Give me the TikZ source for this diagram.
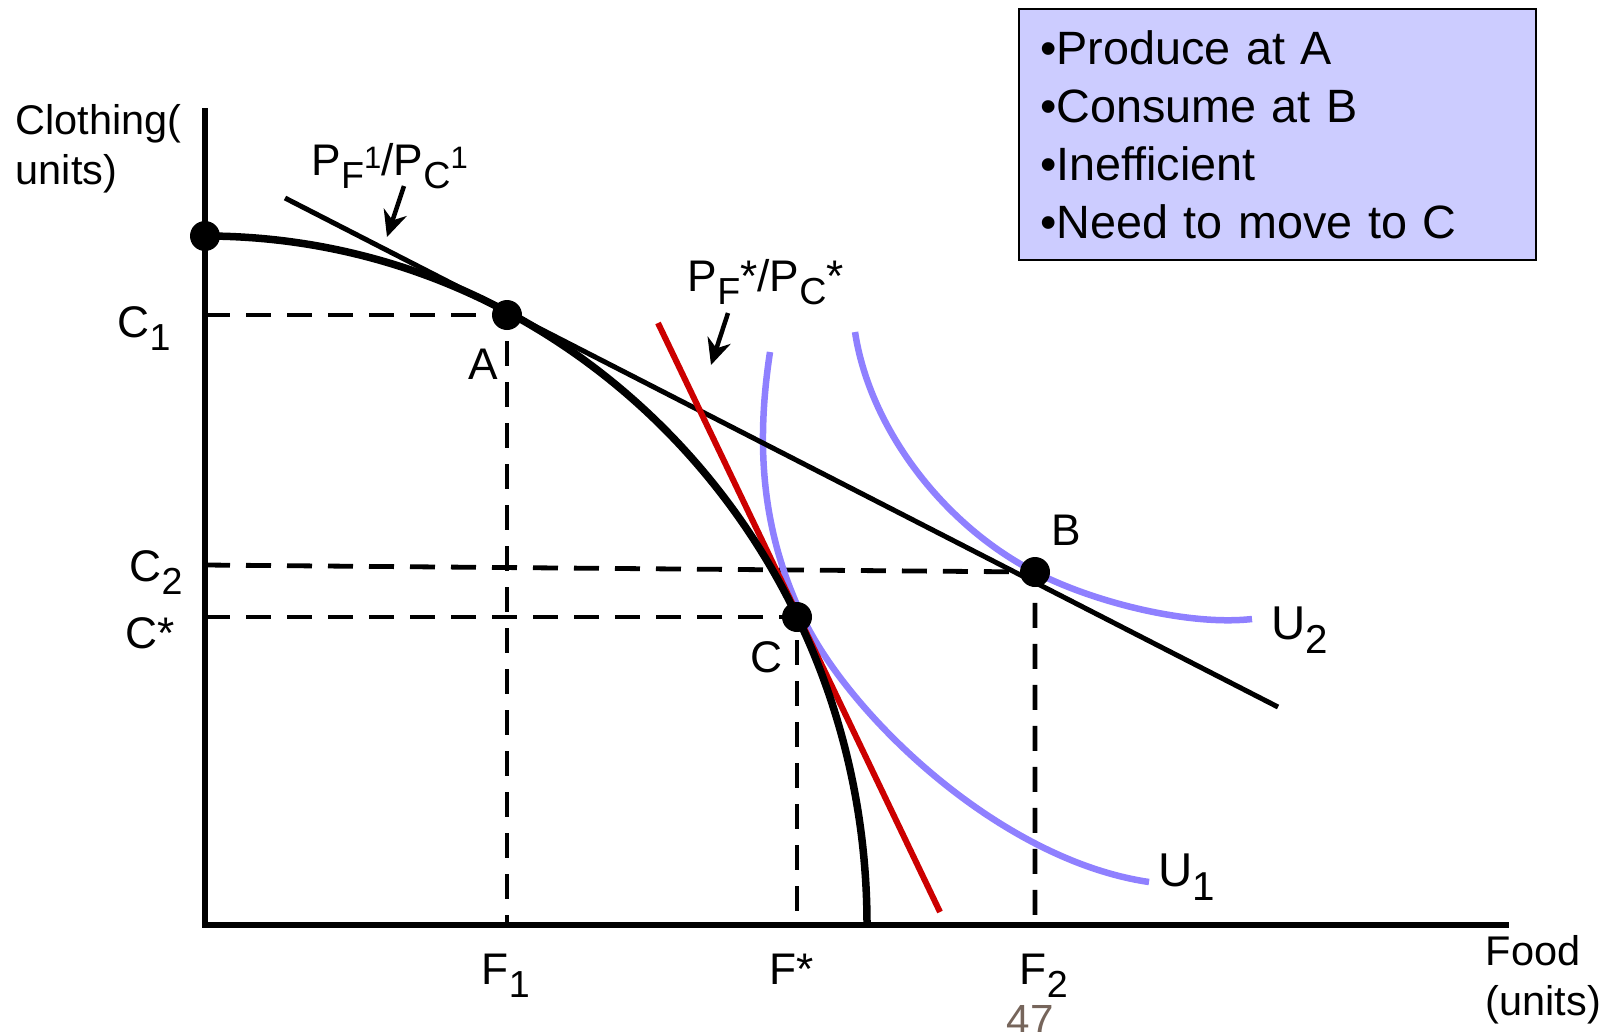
\documentclass[tikz,border=0pt]{standalone}
\usepackage{fontspec}
\setmainfont{Liberation Sans}
\usepackage{graphicx}
\usetikzlibrary{arrows.meta}
\definecolor{indiff}{RGB}{143,128,255}
\definecolor{budgetred}{RGB}{204,0,0}
\definecolor{notebox}{RGB}{204,204,255}
\definecolor{pagenum}{RGB}{118,101,91}
\newcommand{\subtx}[1]{\raisebox{-0.3em}{\scalebox{0.85}{#1}}}
\newcommand{\suptx}[1]{\raisebox{0.15em}{\scalebox{0.7}{#1}}}
\begin{document}
\begin{tikzpicture}[x=0.1mm, y=0.1mm,
  axis/.style={line width=0.55mm},
  ppf/.style={line width=0.75mm},
  price/.style={line width=0.5mm},
  guide/.style={line width=0.48mm, dash pattern=on 2.5mm off 1.6mm},
  ucurve/.style={indiff, line width=0.65mm},
  pointer/.style={line width=0.45mm, -{Stealth[length=2.6mm, width=2.4mm]}},
  lbl/.style={inner sep=0pt, anchor=base west, font=\fontsize{12.6}{15}\selectfont},
  title/.style={inner sep=0pt, anchor=north west, align=left, font=\fontsize{11.8}{14.2}\selectfont}]
  \useasboundingbox (0,0) rectangle (1613,1031);
  % 점
  \coordinate (O) at (205,106);
  \coordinate (T) at (205,795);
  \coordinate (A) at (507,716);
  \coordinate (C) at (797,414);
  \coordinate (B) at (1035,459);
  % 축
  \draw[axis] (205,923) -- (O) -- (1509,106);
  % 보조선
  \draw[guide] (A -| O) -- (A) -- (A |- O);
  \draw[guide] (205,466) -- (B) -- (B |- O);
  \draw[guide] (C -| O) -- (C) -- (C |- O);
  % 무차별곡선
  \draw[ucurve] (770,679) .. controls (755,581) and (763,497) .. (803,413)
    .. controls (850,315) and (1000,171) .. (1149,149);
  \draw[ucurve] (855,699) .. controls (870,601) and (945,505) .. (B)
    .. controls (1095,428) and (1190,405) .. (1252,412);
  % 가격선
  \draw[price] (285,833) -- (1278,324);
  \draw[price, budgetred, line width=0.6mm] (658,708) -- (940,119);
  % 생산가능곡선
  \draw[ppf] (T) arc[start angle=90, end angle=0, x radius=662, y radius=689];
  \foreach \p in {T,A,C,B} \fill (\p) circle[radius=15];
  % 화살표
  \coordinate (p1tail) at (404,845);
  \coordinate (p1tip) at (387,794);
  \coordinate (p2tail) at (728,718);
  \coordinate (p2tip) at (711,666);
  \draw[pointer] (p1tail) -- (p1tip);
  \draw[pointer] (p2tail) -- (p2tip);
  % 글자
  \node[title] (ylab) at (15,927) {Clothing(\\units)};
  \node[title] (xlab) at (1485,96) {Food\\(units)};
  \node[lbl] (lblP1) at (311,856) {P\subtx{F}\suptx{1}/P\subtx{C}\suptx{1}};
  \node[lbl] (lblP2) at (687,740) {P\subtx{F}*/P\subtx{C}*};
  \node[lbl] (lblC1) at (117,694) {C\subtx{1}};
  \node[lbl] (lblC2) at (129,450) {C\subtx{2}};
  \node[lbl] (lblCs) at (125,383) {C*};
  \node[lbl] (lblA) at (468,652) {A};
  \node[lbl] (lblC) at (750,359) {C};
  \node[lbl] (lblB) at (1051,486) {B};
  \node[lbl, font=\fontsize{13.5}{16}\selectfont] (lblU2) at (1271,392) {U\subtx{2}};
  \node[lbl, font=\fontsize{13.5}{16}\selectfont] (lblU1) at (1158,145) {U\subtx{1}};
  \node[lbl] (lblF1) at (481,47) {F\subtx{1}};
  \node[lbl] (lblFs) at (769,47) {F*};
  \node[lbl] (lblF2) at (1019,47) {F\subtx{2}};
  \node[inner sep=0pt, anchor=base, text=pagenum, font=\fontsize{12}{14}\selectfont] (pageno) at (1030,-3) {47};
  % 설명 상자
  \node[draw, fill=notebox, line width=0.2mm, anchor=north west, inner xsep=2.1mm, inner ysep=0pt,
    text width=47.5mm, minimum height=25.1mm, align=left, font=\fontsize{13.3}{16.5}\selectfont]
    (notes) at (1018,1023) {•Produce at A\\•Consume at B\\•Inefficient\\•Need to move to C};
\end{tikzpicture}
\end{document}
